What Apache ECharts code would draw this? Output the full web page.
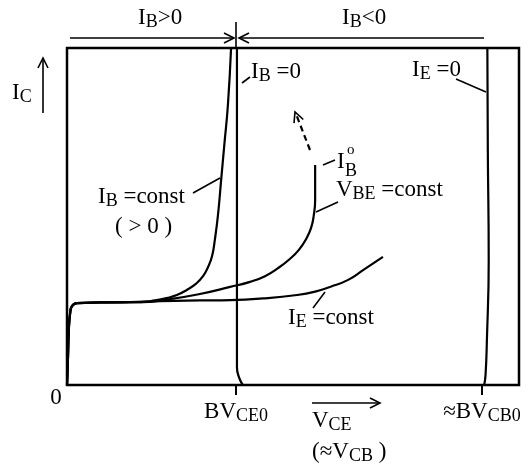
<!doctype html>
<html>
<head>
<meta charset="UTF-8">
<title>BJT breakdown characteristics</title>
<script src="https://cdn.jsdelivr.net/npm/echarts@6/dist/echarts.min.js"></script>
<style>
  html, body { margin: 0; background: #fff; }
  #chart { width: 529px; height: 467px; }
</style>
</head>
<body>
<div id="chart"></div>
<script>
// V_CE on x, I_C on y, both in arbitrary 0-100 units
var riseX = [0, 0.2, 0.4, 0.7, 1.1, 2.2, 7.3, 13.9];
var riseY = [0, 7.4, 16.3, 21.4, 23.4, 24.3, 24.5, 24.6];

// I_B = const (> 0)
var ibConstX = [16.2, 19.5, 22.1, 24.3, 26.5, 28.5, 30.1, 31.2, 32.1, 32.7, 33.4, 34.1, 34.8, 35.6, 36.3];
var ibConstY = [24.6, 25.1, 25.8, 26.7, 28.2, 30.0, 32.3, 35.0, 38.3, 43.0, 50.4, 60.8, 71.2, 83.1, 100];

// V_BE = const, ends at I_B^o
var vbeX = [16.2, 22.8, 29.4, 36.1, 40.5, 43.8, 46.7, 49.3, 51.3, 52.9, 54.0, 54.6, 54.9, 54.9];
var vbeY = [24.6, 25.5, 27.0, 29.1, 30.6, 32.3, 34.7, 37.4, 40.1, 43.3, 46.6, 50.4, 54.9, 65.3];

// I_E = const
var ieConstX = [20.6, 29.4, 36.1, 43.4, 50.9, 54.9, 58.2, 62.2, 65.5, 69.9];
var ieConstY = [24.9, 25.1, 25.2, 25.7, 26.7, 27.7, 29.1, 31.2, 34.1, 38.0];

// I_B = 0
var ib0X = [38.9, 38.1, 37.6, 37.6];
var ib0Y = [0, 2.1, 5.3, 100];

// I_E = 0
var ie0X = [92.3, 92.6, 92.9, 93.3, 93.1, 93.0];
var ie0Y = [0, 3.0, 13.4, 37.1, 69.7, 100];

// breakdown voltages on the x axis
var bvCE0 = 37.4;
var bvCB0 = 91.8;

// I_B^o point
var ibo = [54.9, 65.3];

function pts(xs, ys) {
  return xs.map(function (x, i) { return [x, ys[i]]; });
}

var ink = '#000';
var serif = '"Liberation Serif", "DejaVu Serif", serif';
var rich = {
  m: { fontSize: 23, fontFamily: serif, color: ink, lineHeight: 26 },
  s: { fontSize: 18, fontFamily: serif, color: ink, lineHeight: 10, verticalAlign: 'bottom' }
};

function label(text, x, y) {
  return {
    type: 'text', x: x, y: y, silent: true,
    style: { text: text, rich: rich, fill: ink, textVerticalAlign: 'middle', font: '23px ' + serif }
  };
}
function seg(x1, y1, x2, y2, w, dash) {
  return {
    type: 'line', silent: true,
    shape: { x1: x1, y1: y1, x2: x2, y2: y2 },
    style: { stroke: ink, lineWidth: w || 1.6, lineDash: dash || null }
  };
}
function chevron(points) {
  return { type: 'polyline', silent: true, shape: { points: points }, style: { stroke: ink, lineWidth: 1.6, fill: null } };
}

var curve = function (data) {
  return {
    type: 'line', data: data, showSymbol: false, smooth: 0.5,
    lineStyle: { color: ink, width: 2.2 }, silent: true
  };
};

var chart = echarts.init(document.getElementById('chart'));

var option = {
  animation: false,
  backgroundColor: '#fff',
  grid: { left: 67, right: 10, top: 48, bottom: 82, show: true, borderColor: ink, borderWidth: 2.5 },
  xAxis: {
    type: 'value', min: 0, max: 100,
    axisLine: { show: false },
    splitLine: { show: false },
    axisTick: { show: true, customValues: [bvCE0, bvCB0], length: 10, lineStyle: { color: ink, width: 2 } },
    axisLabel: {
      customValues: [0, bvCE0, bvCB0],
      margin: 2,
      formatter: function (v) {
        if (v === 0) return '{z|0}';
        if (Math.abs(v - bvCE0) < 1e-6) return '{g| }\n{m|BV}{s|CE0}';
        return '{g| }\n{m|≈BV}{s|CB0}';
      },
      rich: {
        z: { fontSize: 23, fontFamily: serif, color: ink, lineHeight: 22, padding: [0, 22, 0, 0] },
        g: { fontSize: 10, lineHeight: 12 },
        m: rich.m,
        s: rich.s
      }
    }
  },
  yAxis: {
    type: 'value', min: 0, max: 100,
    axisLine: { show: false }, axisTick: { show: false },
    axisLabel: { show: false }, splitLine: { show: false }
  },
  series: [
    curve(pts(riseX.concat(ibConstX), riseY.concat(ibConstY))),
    curve(pts(riseX.concat(vbeX), riseY.concat(vbeY))),
    curve(pts(riseX.concat(ieConstX), riseY.concat(ieConstY))),
    curve(pts(ib0X, ib0Y)),
    curve(pts(ie0X, ie0Y)),
    {
      type: 'scatter', data: [ibo], symbol: 'emptyCircle', symbolSize: 8,
      itemStyle: { color: '#fff', borderColor: ink, borderWidth: 2 }, silent: true
    }
  ],
  graphic: [
    // dimension arrows above the frame
    seg(70, 38, 234, 38),
    chevron([[224, 33], [234, 38], [224, 43]]),
    seg(239, 38, 484, 38),
    chevron([[249, 33], [239, 38], [249, 43]]),
    seg(236, 22, 236, 48),
    label('{m|I}{s|B}{m|>0}', 138, 18),
    label('{m|I}{s|B}{m|<0}', 342, 18),
    // I_C arrow
    seg(43, 113, 43, 58),
    chevron([[38, 68], [43, 58], [48, 68]]),
    label('{m|I}{s|C}', 12, 93),
    // curve labels and leaders
    label('{m|I}{s|B}{m| =0}', 251, 72),
    seg(242, 83, 250, 77),
    label('{m|I}{s|E}{m| =0}', 412, 70),
    seg(456, 79, 486, 92),
    label('{m|I}{s|B}{m| =const}', 98, 197),
    label('{m|( > 0 )}', 115, 227),
    seg(193, 193, 220, 178),
    label('{m|I}', 337, 162),
    { type: 'text', x: 347, y: 150, silent: true, style: { text: 'o', font: '15px ' + serif, fill: ink, textVerticalAlign: 'middle' } },
    { type: 'text', x: 345, y: 171, silent: true, style: { text: 'B', font: '18px ' + serif, fill: ink, textVerticalAlign: 'middle' } },
    seg(323, 165, 335, 160),
    label('{m|V}{s|BE}{m| =const}', 336, 190),
    seg(316, 212, 338, 202),
    label('{m|I}{s|E}{m| =const}', 288, 318),
    seg(313, 308, 325, 292),
    // dashed arrow from I_B^o
    seg(310, 150, 296, 114, 2.2, [6, 4]),
    chevron([[303.3, 119.5], [295, 112], [294.0, 123.1]]),
    // V_CE arrow and label
    seg(312, 403, 380, 403),
    chevron([[370, 398], [380, 403], [370, 408]]),
    label('{m|V}{s|CE}', 312, 421),
    label('{m|(≈V}{s|CB}{m| )}', 312, 452)
  ]
};

chart.setOption(option);
</script>
</body>
</html>
